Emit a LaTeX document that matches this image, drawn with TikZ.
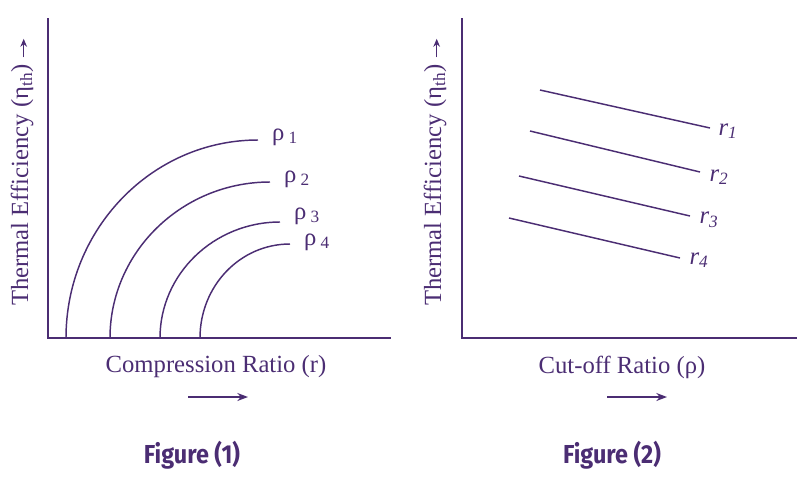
\documentclass[tikz,border=0pt]{standalone}
\usepackage{fontspec}
\setmainfont{Liberation Serif}
\newfontfamily\figfont{Fira Sans}
\usetikzlibrary{arrows.meta}
\begin{document}
\begin{tikzpicture}[x=0.75pt,y=-0.75pt,
  ink/.style={draw=pur,line width=1.1pt},
  lab/.style={text=pur,font=\fontsize{18.5}{20}\selectfont,inner sep=0},
  figcap/.style={text=pur,font=\figfont\bfseries\fontsize{19.5}{22}\selectfont,inner sep=0,xscale=0.9},
  harrow/.style={ink,-{Stealth[length=8pt,width=6pt]}}]
\definecolor{pur}{HTML}{4B2D73}
\useasboundingbox (0,0) rectangle (808,483);
% Figure 1
\coordinate (t1) at (48,18); \coordinate (o1) at (48,338); \coordinate (e1) at (391,338);
\draw[ink] (t1) -- (o1) -- (e1);
\draw[ink] (66,338) .. controls (66,229) and (152,140) .. (258,140);
\draw[ink] (110,338) .. controls (110,252) and (182,182) .. (270,182);
\draw[ink] (160,338) .. controls (160,274) and (214,222) .. (280,222);
\draw[ink] (200,338) .. controls (200,286) and (240,244) .. (290,244);
\node[lab] (p1) at (285,137) {ρ\,\textsubscript{1}};
\node[lab] (p2) at (297,179) {ρ\,\textsubscript{2}};
\node[lab] (p3) at (307,216) {ρ\,\textsubscript{3}};
\node[lab] (p4) at (317,242) {ρ\,\textsubscript{4}};
\node[lab,rotate=90] (y1) at (22,172) {Thermal Efficiency (η\textsubscript{th}) \raisebox{-1pt}{\tikz[baseline=-0.5ex]\draw[pur,line width=1pt,-{Stealth[length=6pt,width=5pt]}] (0,0) -- (14pt,0);}};
\node[lab] (x1) at (216,367) {Compression Ratio (r)};
\coordinate (a1s) at (188,397); \coordinate (a1e) at (248,397);
\draw[harrow] (a1s) -- (a1e);
\node[figcap] (f1) at (192,455) {Figure (1)};
% Figure 2
\coordinate (t2) at (462,18); \coordinate (o2) at (462,338); \coordinate (e2) at (797,338);
\draw[ink] (t2) -- (o2) -- (e2);
\draw[ink] (540,90) -- (710,128);
\draw[ink] (530,131) -- (700,172);
\draw[ink] (519,176) -- (690,216);
\draw[ink] (509,218) -- (680,258);
\node[lab] (r1) at (728,131) {\textit{r\textsubscript{1}}};
\node[lab] (r2) at (719,177) {\textit{r\textsubscript{2}}};
\node[lab] (r3) at (709,220) {\textit{r\textsubscript{3}}};
\node[lab] (r4) at (699,260) {\textit{r\textsubscript{4}}};
\node[lab,rotate=90] (y2) at (435,172) {Thermal Efficiency (η\textsubscript{th}) \raisebox{-1pt}{\tikz[baseline=-0.5ex]\draw[pur,line width=1pt,-{Stealth[length=6pt,width=5pt]}] (0,0) -- (14pt,0);}};
\node[lab] (x2) at (622,367) {Cut-off Ratio (ρ)};
\coordinate (a2s) at (607,397); \coordinate (a2e) at (667,397);
\draw[harrow] (a2s) -- (a2e);
\node[figcap] (f2) at (612,455) {Figure (2)};
\end{tikzpicture}
\end{document}
